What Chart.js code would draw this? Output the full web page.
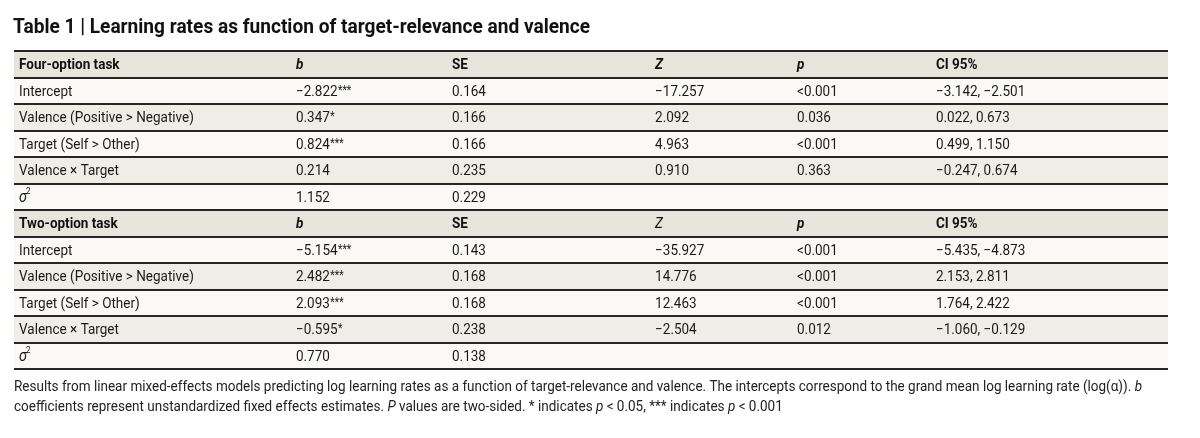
<!DOCTYPE html>
<html>
<head>
<meta charset="utf-8">
<script src="https://cdn.jsdelivr.net/npm/chart.js@4.4.1/dist/chart.umd.min.js"></script>
<style>
  html, body { margin: 0; padding: 0; background: #ffffff; }
  #wrap { width: 1200px; height: 438px; }
</style>
</head>
<body>
<div id="wrap"><canvas id="c" width="1200" height="438"></canvas></div>
<script>
// ---- data ----
const titleText = "Table 1 | Learning rates as function of target-relevance and valence";
const rowLabels = [
  "Four-option task", "Intercept", "Valence (Positive > Negative)", "Target (Self > Other)", "Valence × Target", "σ²",
  "Two-option task", "Intercept", "Valence (Positive > Negative)", "Target (Self > Other)", "Valence × Target", "σ²"
];
const colB  = ["b", "−2.822***", "0.347*", "0.824***", "0.214", "1.152",
               "b", "−5.154***", "2.482***", "2.093***", "−0.595*", "0.770"];
const colSE = ["SE", "0.164", "0.166", "0.166", "0.235", "0.229",
               "SE", "0.143", "0.168", "0.168", "0.238", "0.138"];
const colZ  = ["Z", "−17.257", "2.092", "4.963", "0.910", "",
               "Z", "−35.927", "14.776", "12.463", "−2.504", ""];
const colP  = ["p", "<0.001", "0.036", "<0.001", "0.363", "",
               "p", "<0.001", "<0.001", "<0.001", "0.012", ""];
const colCI = ["CI 95%", "−3.142, −2.501", "0.022, 0.673", "0.499, 1.150", "−0.247, 0.674", "",
               "CI 95%", "−5.435, −4.873", "2.153, 2.811", "1.764, 2.422", "−1.060, −0.129", ""];
const headerRows = [0, 6];
const footnote1 = [
  ["Results from linear mixed-effects models predicting log learning rates as a function of target-relevance and valence. The intercepts correspond to the grand mean log learning rate (log(α)). ", false],
  ["b", true]
];
const footnote2 = [
  ["coefficients represent unstandardized fixed effects estimates. ", false], ["P", true],
  [" values are two-sided. * indicates ", false], ["p", true], [" < 0.05, *** indicates ", false], ["p", true], [" < 0.001", false]
];

// ---- style ----
const columns = [rowLabels, colB, colSE, colZ, colP, colCI];
const colStart = [0, 0.2400, 0.3752, 0.5512, 0.6742, 0.7946]; // fractions of table width
const FONT = "Roboto, 'Noto Sans', sans-serif";
const HX = 0.9;           // horizontal condensing of body text
const HEADER_BG = "#e7e4db";
const ROW_BG = ["#faf9f5", "#efede6"];

function rowColor(i) {
  if (headerRows.includes(i)) return HEADER_BG;
  const h = headerRows.filter(r => r < i).pop();
  return ROW_BG[(i - h - 1) % 2];
}

function headerFont(j, i) {
  if (j === 1 || j === 4) return "italic 700 15px " + FONT;
  if (j === 3) return (i === 0 ? "italic 700 15px " : "italic 400 15px ") + FONT;
  return "700 15px " + FONT;
}

function drawCondensed(ctx, txt, x, y, sx) {
  ctx.save();
  ctx.translate(x, y);
  ctx.scale(sx, 1);
  ctx.fillText(txt, 0, 0);
  const w = ctx.measureText(txt).width * sx;
  ctx.restore();
  return w;
}

const textPlugin = {
  id: 'tableText',
  afterDraw(chart) {
    const ctx = chart.ctx;
    const xs = chart.scales.x, ys = chart.scales.y;
    const x0 = xs.getPixelForValue(0);
    ctx.save();
    // title
    ctx.fillStyle = "#111";
    ctx.textBaseline = "alphabetic";
    ctx.textAlign = "left";
    ctx.font = "700 20px " + FONT;
    const tw = ctx.measureText(titleText).width;
    drawCondensed(ctx, titleText, x0 - 1, 33, (591 - x0) / tw);

    // cells
    ctx.textBaseline = "middle";
    for (let i = 0; i < rowLabels.length; i++) {
      const y = ys.getPixelForValue(i) + 1;
      const isHeader = headerRows.includes(i);
      for (let j = 0; j < columns.length; j++) {
        const txt = columns[j][i];
        if (!txt) continue;
        const x = xs.getPixelForValue(colStart[j]) + 5;
        if (isHeader) {
          ctx.font = headerFont(j, i);
          ctx.fillStyle = "#111";
          drawCondensed(ctx, txt, x, y, HX);
        } else if (j === 0 && txt === "σ²") {
          ctx.font = "italic 400 16px " + FONT;
          ctx.fillStyle = "#1a1a1a";
          const w = drawCondensed(ctx, "σ", x, y, HX);
          ctx.font = "400 9px " + FONT;
          drawCondensed(ctx, "2", x + w - 1, y - 6, HX);
        } else {
          ctx.font = "400 15px " + FONT;
          ctx.fillStyle = "#1a1a1a";
          const m = txt.match(/^(.*?)(\**)$/);
          const w = drawCondensed(ctx, m[1], x, y, HX);
          if (m[2]) {
            ctx.font = "400 12px " + FONT;
            drawCondensed(ctx, m[2], x + w + 0.5, y - 1, 0.85);
          }
        }
      }
    }

    // footnote (condensed)
    const fsize = 14;
    const fnFont = it => (it ? "italic " : "") + "400 " + fsize + "px " + FONT;
    const measure = segs => segs.reduce((s, [t, it]) => { ctx.font = fnFont(it); return s + ctx.measureText(t).width; }, 0);
    const sx = (1142 - x0) / measure(footnote1);
    ctx.fillStyle = "#222";
    ctx.textBaseline = "alphabetic";
    [[footnote1, 391], [footnote2, 411]].forEach(([segs, by]) => {
      ctx.save();
      ctx.translate(x0, by);
      ctx.scale(sx, 1);
      let cx = 0;
      segs.forEach(([t, it]) => {
        ctx.font = fnFont(it);
        ctx.fillText(t, cx, 0);
        cx += ctx.measureText(t).width;
      });
      ctx.restore();
    });
    ctx.restore();
  }
};

new Chart(document.getElementById('c'), {
  type: 'bar',
  data: {
    labels: rowLabels.map((l, i) => i + ":" + l),
    datasets: [{
      data: rowLabels.map(() => 1),
      backgroundColor: rowLabels.map((l, i) => rowColor(i)),
      borderWidth: 0,
      barPercentage: 1,
      categoryPercentage: 1
    }]
  },
  options: {
    indexAxis: 'y',
    responsive: false,
    animation: false,
    devicePixelRatio: 1,
    layout: { padding: { left: 14, right: 32, top: 51, bottom: 69 } },
    plugins: { legend: { display: false }, tooltip: { enabled: false }, title: { display: false } },
    scales: {
      x: { display: false, min: 0, max: 1 },
      y: {
        display: true,
        ticks: { display: false },
        border: { display: false },
        grid: { offset: true, drawTicks: false, color: "#262626", lineWidth: 2, z: 1 }
      }
    }
  },
  plugins: [textPlugin]
});
</script>
</body>
</html>
